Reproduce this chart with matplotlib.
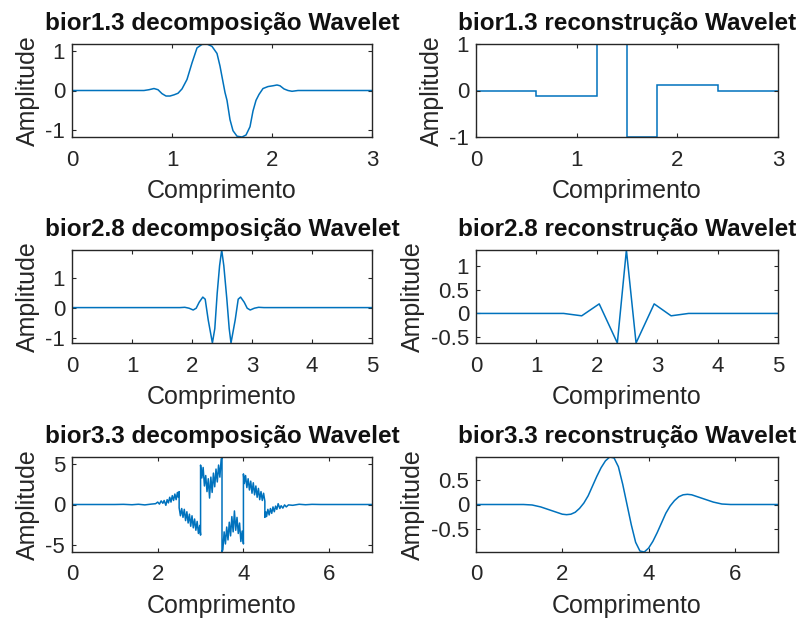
import matplotlib
matplotlib.use("Agg")
import matplotlib.pyplot as plt

plt.rcParams['font.family'] = ['Liberation Sans', 'DejaVu Sans']

LINE = '#0072BD'
DARK = '#262626'

# ---- bior1.3 decomposition wavelet ----
d13_x = [0.00, 0.72, 0.77, 0.82, 0.86, 0.90, 0.94, 0.98, 1.02, 1.06, 1.10, 1.15,
         1.20, 1.25, 1.30, 1.35, 1.40, 1.45, 1.48, 1.50, 1.53, 1.55, 1.58, 1.61,
         1.65, 1.70, 1.74, 1.78, 1.81, 1.84, 1.87, 1.91, 1.96, 2.01, 2.05, 2.08,
         2.12, 2.16, 2.20, 2.26, 3.00]
d13_y = [0.00, 0.00, 0.02, 0.05, 0.02, -0.08, -0.14, -0.14, -0.11, -0.07, 0.04, 0.28,
         0.70, 1.08, 1.17, 1.18, 1.12, 0.94, 0.62, 0.35, -0.05, -0.25, -0.74, -1.02,
         -1.16, -1.18, -1.13, -0.92, -0.52, -0.25, -0.10, 0.05, 0.10, 0.12, 0.14, 0.12,
         0.04, 0.00, -0.02, 0.00, 0.00]

# ---- bior1.3 reconstruction wavelet (piecewise constant) ----
r13_edges = [0.0, 0.6, 1.2, 1.5, 1.8, 2.4, 3.0]
r13_levels = [0.0, -0.125, 1.0, -1.0, 0.125, 0.0]

# ---- bior2.8 decomposition wavelet ----
d28_x = [0.00, 1.80, 1.88, 1.95, 2.02, 2.07, 2.12, 2.18, 2.22, 2.27, 2.34, 2.38,
         2.42, 2.46, 2.495, 2.53, 2.58, 2.62, 2.65, 2.72, 2.77, 2.81, 2.87, 2.92,
         2.97, 3.04, 3.11, 3.20, 5.00]
d28_y = [0.00, 0.00, 0.01, -0.02, -0.08, -0.02, 0.18, 0.35, 0.28, -0.41, -1.18, -0.70,
         0.48, 1.40, 1.92, 1.40, 0.30, -0.70, -1.18, -0.41, 0.28, 0.35, 0.18, -0.02,
         -0.08, -0.02, 0.01, 0.00, 0.00]

# ---- bior2.8 reconstruction wavelet ----
r28_x = [0.00, 1.45, 1.75, 2.04, 2.34, 2.49, 2.65, 2.95, 3.23, 3.52, 5.00]
r28_y = [0.00, 0.00, -0.05, 0.20, -0.62, 1.33, -0.62, 0.20, -0.05, 0.00, 0.00]

# ---- bior3.3 decomposition wavelet ----
d33_x = [0.00, 1.00, 1.20, 1.40, 1.55, 1.70, 1.85, 1.95, 2.00, 2.04, 2.08, 2.12,
         2.15, 2.19, 2.22, 2.25, 2.28, 2.31, 2.34, 2.37, 2.40, 2.43, 2.46, 2.48,
         2.50, 2.50, 2.53, 2.56, 2.59, 2.62, 2.65, 2.68, 2.71, 2.74, 2.77, 2.80,
         2.83, 2.86, 2.89, 2.92, 2.95, 2.98, 3.00, 3.00, 3.03, 3.06, 3.09, 3.12,
         3.15, 3.18, 3.21, 3.24, 3.27, 3.30, 3.33, 3.36, 3.39, 3.42, 3.45, 3.48,
         3.50, 3.50, 3.52, 3.55, 3.58, 3.61, 3.64, 3.67, 3.70, 3.73, 3.76, 3.79,
         3.82, 3.85, 3.88, 3.91, 3.94, 3.97, 4.00, 4.00, 4.02, 4.05, 4.08, 4.11,
         4.14, 4.17, 4.20, 4.23, 4.26, 4.29, 4.32, 4.35, 4.38, 4.41, 4.44, 4.47,
         4.50, 4.50, 4.52, 4.54, 4.57, 4.60, 4.63, 4.66, 4.69, 4.72, 4.75, 4.78,
         4.81, 4.85, 4.88, 4.92, 4.96, 5.00, 5.05, 5.15, 5.30, 5.45, 5.60, 5.80,
         7.00]
d33_y = [0.00, 0.00, 0.02, -0.03, 0.03, -0.05, 0.05, 0.10, 0.30, 0.05, 0.45, 0.15,
         0.50, -0.10, 0.60, 0.20, 0.90, 0.30, 1.10, 0.50, 1.30, 0.60, 1.50, 0.90,
         1.60, -0.40, -1.40, -0.50, -1.60, -0.60, -2.00, -0.90, -2.30, -1.20, -2.70, -1.40,
         -2.90, -1.80, -3.20, -2.10, -3.60, -2.60, -3.80, 4.90, 3.30, 4.60, 2.30, 3.60,
         1.60, 3.20, 0.80, 3.40, 1.50, 3.90, 2.20, 4.40, 2.80, 4.90, 3.40, 5.60,
         5.90, -5.90, -5.60, -3.40, -4.90, -2.80, -4.40, -2.20, -3.90, -1.50, -3.40, -0.80,
         -3.20, -1.60, -3.60, -2.30, -4.60, -3.30, -4.90, 3.80, 2.60, 3.60, 2.10, 3.20,
         1.80, 2.90, 1.40, 2.70, 1.20, 2.30, 0.90, 2.00, 0.60, 1.60, 0.50, 1.40,
         0.40, -1.60, -0.90, -1.50, -0.60, -1.30, -0.50, -1.10, -0.30, -0.90, -0.20, -0.60,
         0.10, -0.50, -0.15, -0.45, -0.05, -0.30, -0.05, -0.10, 0.03, -0.03, 0.02, 0.00,
         0.00]

# ---- bior3.3 reconstruction wavelet ----
r33_x = [0.0, 1.0, 1.1, 1.2, 1.3, 1.4, 1.5, 1.6, 1.7, 1.8, 1.9, 2.0, 2.1, 2.2, 2.3,
         2.4, 2.5, 2.6, 2.7, 2.8, 2.9, 3.0, 3.1, 3.2, 3.3, 3.4, 3.5, 3.6, 3.7, 3.8,
         3.9, 4.0, 4.1, 4.2, 4.3, 4.4, 4.5, 4.6, 4.7, 4.8, 4.9, 5.0, 5.1, 5.2, 5.3,
         5.4, 5.5, 5.6, 5.7, 5.8, 5.9, 7.0]
r33_y = [0.0, 0.0, 0.0, -0.005, -0.01, -0.03, -0.05, -0.08, -0.11, -0.14, -0.17, -0.20,
         -0.21, -0.20, -0.16, -0.08, 0.03, 0.18, 0.38, 0.58, 0.76, 0.90, 0.98, 0.96,
         0.78, 0.42, 0.0, -0.42, -0.78, -0.96, -0.98, -0.90, -0.76, -0.58, -0.38, -0.18,
         -0.03, 0.08, 0.16, 0.20, 0.21, 0.20, 0.17, 0.14, 0.11, 0.08, 0.05, 0.03, 0.01,
         0.005, 0.0, 0.0]

titles = ['bior1.3 decomposição Wavelet', 'bior1.3 reconstrução Wavelet',
          'bior2.8 decomposição Wavelet', 'bior2.8 reconstrução Wavelet',
          'bior3.3 decomposição Wavelet', 'bior3.3 reconstrução Wavelet']
xlims = [(0, 3), (0, 3), (0, 5), (0, 5), (0, 7), (0, 7)]
ylims = [(-1.18, 1.18), (-1.0, 1.0), (-1.18, 1.92), (-0.62, 1.33), (-5.9, 5.9), (-0.98, 0.98)]
xticks = [[0, 1, 2, 3], [0, 1, 2, 3], [0, 1, 2, 3, 4, 5], [0, 1, 2, 3, 4, 5],
          [0, 2, 4, 6], [0, 2, 4, 6]]
yticks = [[-1, 0, 1], [-1, 0, 1], [-1, 0, 1], [-0.5, 0, 0.5, 1], [-5, 0, 5], [-0.5, 0, 0.5]]

W, H = 801, 622
fig = plt.figure(figsize=(W / 100, H / 100), dpi=100)
fig.patch.set_facecolor('white')

cols = [(72, 300), (476, 302)]
rows = [(44, 137), (250, 343), (457, 552)]

axes = []
for r, (top, bot) in enumerate(rows):
    for c, (left, width) in enumerate(cols):
        ax = fig.add_axes([left / W, (H - bot) / H, width / W, (bot - top) / H])
        axes.append(ax)

axes[0].plot(d13_x, d13_y, color=LINE, lw=1.1)
axes[1].stairs(r13_levels, r13_edges, baseline=None, color=LINE, lw=1.1)
axes[2].plot(d28_x, d28_y, color=LINE, lw=1.1)
axes[3].plot(r28_x, r28_y, color=LINE, lw=1.1)
axes[4].plot(d33_x, d33_y, color=LINE, lw=1.1)
axes[5].plot(r33_x, r33_y, color=LINE, lw=1.1)

for i, ax in enumerate(axes):
    ax.set_xlim(*xlims[i])
    ax.set_ylim(*ylims[i])
    ax.set_xticks(xticks[i])
    ax.set_yticks(yticks[i])
    ax.set_xticklabels([f'{t:g}' for t in xticks[i]])
    ax.set_yticklabels([f'{t:g}' for t in yticks[i]])
    ax.tick_params(direction='in', top=True, right=True, length=3, width=0.8,
                   colors=DARK, labelsize=16)
    ax.tick_params(axis='x', pad=9)
    ax.tick_params(axis='y', pad=5)
    for s in ax.spines.values():
        s.set_color(DARK)
        s.set_linewidth(1.0)
    ax.set_title(titles[i], fontsize=17.5, fontweight='bold', color='#111111', pad=10)
    ax.set_xlabel('Comprimento', fontsize=18, color=DARK, labelpad=6)
    ax.set_ylabel('Amplitude', fontsize=18, color=DARK, labelpad=4)

fig.savefig('out.png', dpi=100, facecolor='white')
